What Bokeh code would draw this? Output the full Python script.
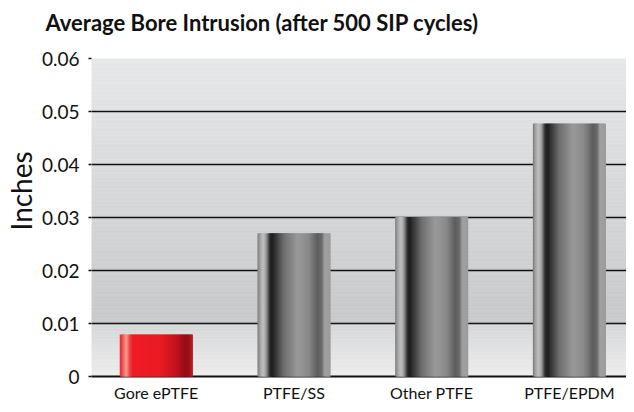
import numpy as np
from bokeh.plotting import figure
from bokeh.models import FixedTicker, Range1d, Title
from bokeh.embed import file_html
from bokeh.resources import INLINE

categories = ["Gore ePTFE", "PTFE/SS", "Other PTFE", "PTFE/EPDM"]
values = [0.0079, 0.0270, 0.0301, 0.0477]
y_ticks = [0, 0.01, 0.02, 0.03, 0.04, 0.05, 0.06]
y_tick_labels = ["0", "0.01", "0.02", "0.03", "0.04", "0.05", "0.06"]

FONT = "Lato"
X0, X1 = -0.47, 3.415

gray_stops = [(0.00, "#7a7a7a"), (0.04, "#a8a8a8"), (0.08, "#c2c2c2"), (0.12, "#9a9a9a"),
              (0.17, "#2a2a2a"), (0.20, "#1e1e1e"), (0.36, "#6e6e6e"), (0.55, "#9a9a9a"),
              (0.70, "#8a8a8a"), (0.82, "#5e5e5e"), (0.88, "#6a6a6a"), (0.92, "#a2a2a2"),
              (1.00, "#9c9c9c")]
red_stops = [(0.00, "#e02a30"), (0.05, "#f06060"), (0.09, "#f7a68e"), (0.13, "#f04848"),
             (0.18, "#ee1c25"), (0.55, "#ea1c25"), (0.75, "#c8141e"), (0.90, "#9a0c16"),
             (0.95, "#a01018"), (1.00, "#c02028")]


def hex2rgb(h):
    return np.array([int(h[i:i + 2], 16) for i in (1, 3, 5)], dtype=float)


def interp(stops, t):
    xs = [s[0] for s in stops]
    cs = np.array([hex2rgb(s[1]) for s in stops])
    r = np.interp(t, xs, cs[:, 0]); g = np.interp(t, xs, cs[:, 1]); b = np.interp(t, xs, cs[:, 2])
    return ["#%02x%02x%02x" % (int(a), int(bb), int(c)) for a, bb, c in zip(r, g, b)]


p = figure(width=626, height=404, output_backend="svg", toolbar_location=None,
           x_range=Range1d(X0, X1), y_range=Range1d(0, 0.06),
           min_border_left=91, min_border_right=0, min_border_bottom=27, min_border_top=58)
p.title = None
p.border_fill_color = "#ffffff"
# spacer between title and frame
p.add_layout(Title(text=" ", text_font=FONT, text_font_size="8px", standoff=6), "above")
p.add_layout(Title(text="Average Bore Intrusion (after 500 SIP cycles)", align="left",
                   offset=-46, text_font=FONT, text_font_size="22px", text_font_style="bold",
                   text_color="#111111"), "above")
p.outline_line_color = None
p.background_fill_color = "#ffffff"

n_bg = 120
edges = np.linspace(0, 0.06, n_bg + 1)
mids = (edges[:-1] + edges[1:]) / 2
bg_cols = []
for m in mids:
    if m >= 0.01:
        t = (m - 0.01) / 0.05
        c = hex2rgb("#c8c9cb") * (1 - t) + hex2rgb("#e7e8e9") * t
    else:
        t = m / 0.01
        c = hex2rgb("#eeeeee") * (1 - t) + hex2rgb("#d6d7d8") * t
    bg_cols.append("#%02x%02x%02x" % tuple(int(v) for v in c))
p.quad(left=X0, right=X1, bottom=edges[:-1], top=edges[1:], fill_color=bg_cols,
       line_color=bg_cols, line_width=0.5)

p.ygrid.ticker = FixedTicker(ticks=y_ticks)
p.ygrid.grid_line_color = "#111111"
p.ygrid.grid_line_width = 1.6
p.ygrid.level = "glyph"
p.xgrid.grid_line_color = None

n_sl = 64
bar_w = 0.53
for i, (cat, v) in enumerate(zip(categories, values)):
    cx = i
    ts = (np.arange(n_sl) + 0.5) / n_sl
    cols = interp(red_stops if i == 0 else gray_stops, ts)
    sw = bar_w / n_sl
    lefts = cx - bar_w / 2 + np.arange(n_sl) * sw
    rights = np.minimum(lefts + 2.5 * sw, cx + bar_w / 2)
    p.quad(left=lefts, right=rights, bottom=0, top=v, fill_color=cols, line_color=None, level="overlay")

p.yaxis.ticker = FixedTicker(ticks=y_ticks)
p.yaxis.major_label_overrides = {t: l for t, l in zip(y_ticks, y_tick_labels)}
p.yaxis.axis_line_color = None
p.yaxis.major_tick_line_color = "#111111"
p.yaxis.major_tick_line_width = 1.6
p.yaxis.major_tick_out = 3
p.yaxis.major_tick_in = 0
p.yaxis.minor_tick_line_color = None
p.yaxis.major_label_text_font = FONT
p.yaxis.major_label_text_font_size = "19px"
p.yaxis.major_label_text_color = "#111111"
p.yaxis.major_label_standoff = 9

p.add_layout(Title(text="Inches", align="left", offset=146, standoff=0, vertical_align="middle",
                   text_font=FONT, text_font_size="28px", text_font_style="normal",
                   text_color="#111111"), "left")

p.xaxis.ticker = FixedTicker(ticks=list(range(len(categories))))
p.xaxis.major_label_overrides = {i: c for i, c in enumerate(categories)}
p.xaxis.axis_line_color = "#111111"
p.xaxis.axis_line_width = 2
p.xaxis.major_tick_line_color = None
p.xaxis.major_tick_out = 0
p.xaxis.major_tick_in = 0
p.xaxis.minor_tick_line_color = None
p.xaxis.minor_tick_out = 0
p.xaxis.major_label_text_font = FONT
p.xaxis.major_label_text_font_size = "16px"
p.xaxis.major_label_text_color = "#111111"
p.xaxis.major_label_standoff = 6

open("out.html", "w").write(file_html(p, INLINE))
